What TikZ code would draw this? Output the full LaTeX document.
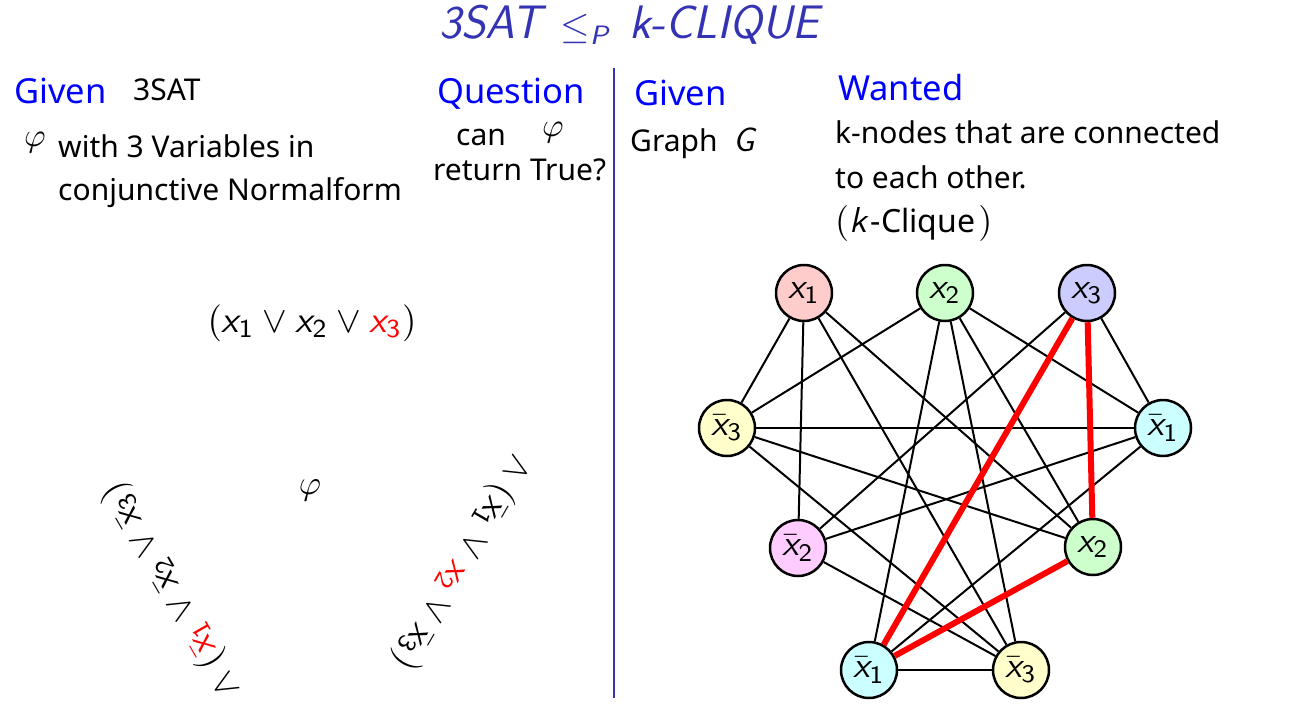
\documentclass[tikz,border=0pt]{standalone}
\usepackage{amsmath}
\usepackage{graphicx}
\usepackage{fontspec}
\setmainfont{Noto Sans}
\definecolor{struct}{RGB}{51,51,179}
\definecolor{cR}{RGB}{255,204,204}
\definecolor{cG}{RGB}{204,255,204}
\definecolor{cB}{RGB}{204,204,255}
\definecolor{cC}{RGB}{204,255,255}
\definecolor{cY}{RGB}{255,255,204}
\definecolor{cM}{RGB}{255,204,255}
\newcommand{\tm}[2]{\scalebox{#1}{\fontsize{10}{12}\selectfont$#2$}}
\newcommand{\vx}[1]{\textsf{\itshape x}_{\textsf{#1}}}
\newcommand{\vnx}[1]{\bar{\textsf{\itshape x}}_{\textsf{#1}}}
\begin{document}
\begin{tikzpicture}[x=1pt,y=-1pt,
  vtx/.style={circle, draw, line width=2.5pt, minimum size=56pt, inner sep=0pt},
  conn/.style={line width=2pt},
  redge/.style={line width=6pt, red},
  body/.style={font=\fontsize{30}{34}\selectfont, anchor=base west, inner sep=0pt},
  head/.style={font=\fontsize{34.5}{38}\selectfont, text=blue, anchor=base west, inner sep=0pt},
  mth/.style={inner sep=0pt},
]
\useasboundingbox (0,0) rectangle (1294,720);

% title
\node[font=\fontsize{47}{52}\selectfont\sffamily\itshape, text=struct, inner sep=0pt] (title) at (629,25) {3SAT\hspace{19pt}\tm{3.8}{\leq_{\textsf{\itshape P}}}\hspace{19pt}k-CLIQUE};

% separator
\coordinate (s1) at (614,68);
\coordinate (s2) at (614,698);
\draw[struct, line width=2.5pt] (s1) -- (s2);

% left column
\node[head] (given1) at (14,103) {Given};
\node[body] (sat) at (133,100) {3SAT};
\node[mth] (phi1) at (35,143) {\tm{3.3}{\varphi}};
\node[body] (l1) at (58,157) {with 3 Variables in};
\node[body] (l2) at (58,200) {conjunctive Normalform};

\node[head] (quest) at (437,103) {Question};
\node[body] (can) at (456,145) {can};
\node[mth] (phi2) at (553,133) {\tm{3.3}{\varphi}};
\node[body] (ret) at (433,180) {return True?};

% formula
\node[mth] (cl1) at (312,323) {\tm{3.7}{(\vx1 \vee \vx2 \vee \textcolor{red}{\vx3})}};
\node[mth] (phi3) at (310,490) {\tm{3.4}{\varphi}};
\node[mth, rotate=-120] (cl2) at (462,562) {\tm{3.7}{\wedge\ (\vnx1 \vee \textcolor{red}{\vx2} \vee \vnx3)}};
\node[mth, rotate=120] (cl3) at (172,590) {\tm{3.7}{\wedge\ (\textcolor{red}{\vnx1} \vee \vnx2 \vee \vnx3)}};

% right column
\node[head] (given2) at (634,105) {Given};
\node[body] (graph) at (630,151) {Graph~~{\fontsize{34}{34}\selectfont\sffamily\itshape G}};
\node[head] (want) at (838,100) {Wanted};
\node[body] (w1) at (835,143) {k-nodes that are connected};
\node[body] (w2) at (835,188) {to each other.};
\node[body, font=\fontsize{32}{34}\selectfont] (w3) at (835,232) {\tm{3.6}{(\textsf{\itshape k}}\hspace{4pt}-Clique\hspace{3pt}\tm{3.6}{)}};

% graph
\node[vtx, fill=cR] (a1) at (804,293) {\tm{3.6}{\vx1}};
\node[vtx, fill=cG] (a2) at (945,293) {\tm{3.6}{\vx2}};
\node[vtx, fill=cB] (a3) at (1087,293) {\tm{3.6}{\vx3}};
\node[vtx, fill=cC] (b1) at (1163,428) {\tm{3.6}{\vnx1}};
\node[vtx, fill=cG] (b2) at (1093,547) {\tm{3.6}{\vx2}};
\node[vtx, fill=cY] (b3) at (1021,670) {\tm{3.6}{\vnx3}};
\node[vtx, fill=cC] (c1) at (869,670) {\tm{3.6}{\vnx1}};
\node[vtx, fill=cM] (c2) at (798,548) {\tm{3.6}{\vnx2}};
\node[vtx, fill=cY] (c3) at (727,428) {\tm{3.6}{\vnx3}};

\draw[conn] (a1) -- (b2);
\draw[conn] (a1) -- (b3);
\draw[conn] (a1) -- (c2);
\draw[conn] (a1) -- (c3);
\draw[conn] (a2) -- (b1);
\draw[conn] (a2) -- (b2);
\draw[conn] (a2) -- (b3);
\draw[conn] (a2) -- (c1);
\draw[conn] (a2) -- (c3);
\draw[conn] (a3) -- (b1);
\draw[conn] (a3) -- (c2);
\draw[conn] (b1) -- (c1);
\draw[conn] (b1) -- (c2);
\draw[conn] (b1) -- (c3);
\draw[conn] (b2) -- (c3);
\draw[conn] (b3) -- (c1);
\draw[conn] (b3) -- (c2);
\draw[conn] (b3) -- (c3);
\draw[redge] (a3) -- (b2);
\draw[redge] (a3) -- (c1);
\draw[redge] (b2) -- (c1);
\end{tikzpicture}
\end{document}
